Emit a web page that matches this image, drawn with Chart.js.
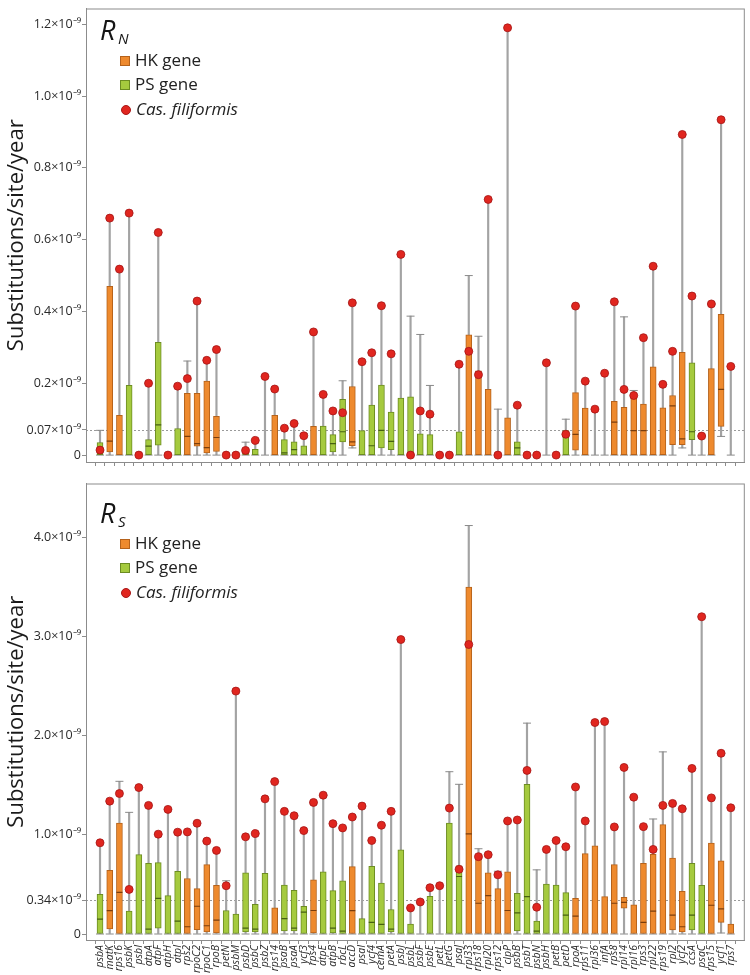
<!DOCTYPE html>
<html><head><meta charset="utf-8">
<script src="https://cdn.jsdelivr.net/npm/chart.js@4.4.0/dist/chart.umd.min.js"></script>
<style>
html,body{margin:0;padding:0;background:#fff;}
#wrap{position:relative;width:750px;height:975px;overflow:hidden;font-family:"Open Sans",sans-serif;}
canvas{position:absolute;left:0;}
.t{position:absolute;line-height:1;white-space:nowrap;color:#151515;font-style:italic;}
.lt{position:absolute;line-height:1;white-space:nowrap;color:#222;font-size:17px;}
.sq{position:absolute;width:8px;height:8px;border:1px solid;}
.dot{position:absolute;width:8px;height:8px;border-radius:50%;background:#E0261F;border:0.8px solid #A81818;}
</style></head>
<body>
<div id="wrap">
<canvas id="c1" width="750" height="475" style="top:0"></canvas>
<canvas id="c2" width="750" height="500" style="top:475px"></canvas>
</div>
<script>
// ---- data (values in units of 1e-9 substitutions/site/year) ----
const genes = ['psbA','matK','rps16','psbK','psbI','atpA','atpF','atpH','atpI','rps2','rpoC2','rpoC1','rpoB','petN','psbM','psbD','psbC','psbZ','rps14','psaB','psaA','ycf3','rps4','atpE','atpB','rbcL','accD','psaI','ycf4','cemA','petA','psbJ','psbL','psbF','psbE','petL','petG','psaJ','rpl33','rps18','rpl20','rps12','clpP','psbB','psbT','psbN','psbH','petB','petD','rpoA','rps11','rpl36','infA','rps8','rpl14','rpl16','rps3','rpl22','rps19','rpl2','ycf2','ccsA','psaC','rps15','ycf1','rps7'];
const geneGroup = ['PS','HK','HK','PS','PS','PS','PS','PS','PS','HK','HK','HK','HK','PS','PS','PS','PS','PS','HK','PS','PS','PS','HK','PS','PS','PS','HK','PS','PS','PS','PS','PS','PS','PS','PS','PS','PS','PS','HK','HK','HK','HK','HK','PS','PS','PS','PS','PS','PS','HK','HK','HK','HK','HK','HK','HK','HK','HK','HK','HK','HK','PS','PS','HK','HK','HK'];
const legendLabels = ['HK gene','PS gene','Cas. filiformis'];

// R_N panel
const rnLow  = [0,0,0,0,null,0,0,null,0,0,0,0,0,null,null,0,0,0,0,0,0,0,0,0,0,0,0.02,0,0,0,0,0,0,0,0,null,null,0,0,0,0,0,0,0,null,null,0,null,0,0,0,0,0,0,0,0,0,0,0,0,0.02,0,0,0,0.052,0];
const rnQ1   = [0,0.009,0,0,null,0,0.028,null,0,0,0.025,0.006,0.010,null,null,0,0,null,0,0,0,0,0,0,0.009,0.037,0.026,0,0,0.02,0.015,0,0,0,0,null,null,0,0,0,0,null,0,0,null,null,null,null,0,0.014,0,null,null,0,0,0,0,0,0,0.029,0.029,0.043,null,0,0.08,null];
const rnMed  = [0.008,0.039,null,null,null,0.025,0.084,null,null,0.052,0.032,0.021,0.049,null,null,null,null,null,null,0.006,0.015,null,null,null,0.032,0.065,0.037,null,0.026,0.069,0.038,null,null,null,null,null,null,null,null,null,null,null,null,0.02,null,null,null,null,null,0.058,null,null,null,0.092,null,0.068,0.068,null,null,0.137,0.045,0.065,null,null,0.183,null];
const rnQ3   = [0.035,0.47,0.111,0.194,null,0.043,0.314,null,0.074,0.172,0.172,0.206,0.108,null,null,0.007,0.016,null,0.111,0.043,0.037,0.026,0.08,0.081,0.057,0.155,0.191,0.068,0.139,0.195,0.12,0.159,0.162,0.059,0.057,null,null,0.065,0.335,0.235,0.183,null,0.104,0.037,null,null,null,null,0.068,0.174,0.131,null,null,0.15,0.133,0.166,0.142,0.246,0.132,0.166,0.286,0.257,null,0.241,0.392,null];
const rnHigh = [0.069,0.66,0.518,0.674,null,0.2,0.62,null,0.192,0.262,0.429,0.264,0.294,null,null,0.036,0.041,0.219,0.184,0.075,0.088,0.06,0.343,0.169,0.123,0.207,0.424,0.26,0.285,0.416,0.282,0.559,0.387,0.336,0.194,null,null,0.253,0.5,0.331,0.712,0.128,1.19,0.139,null,null,0.257,null,0.1,0.415,0.206,0.128,0.228,0.427,0.385,0.18,0.327,0.526,0.197,0.289,0.893,0.443,0.053,0.421,0.934,0.247];
const rnDot  = [0.014,0.66,0.518,0.674,0,0.2,0.62,0,0.192,0.213,0.429,0.264,0.294,0,0,0.013,0.041,0.219,0.184,0.075,0.088,0.054,0.343,0.169,0.123,0.118,0.424,0.26,0.285,0.416,0.282,0.559,0,0.123,0.114,0,0,0.253,0.289,0.224,0.712,0,1.19,0.139,0,0,0.257,0,0.058,0.415,0.206,0.128,0.228,0.427,0.183,0.166,0.327,0.526,0.197,0.289,0.893,0.443,0.053,0.421,0.934,0.247];
const rnTicks = [0,0.07,0.2,0.4,0.6,0.8,1.0,1.2];
const rnTickLabels = ['0','0.07×10⁻⁹','0.2×10⁻⁹','0.4×10⁻⁹','0.6×10⁻⁹','0.8×10⁻⁹','1.0×10⁻⁹','1.2×10⁻⁹'];
const rnRef = 0.07;

// R_S panel
const rsLow  = [0,0,0,0,0,0,0,0,0,0,0,0,0,0,0,0,0,0,0,0,0,0,0,0,0,0,0,0,0,0,0,0,0,0,0,0,0,0,0,0,0,0,0,0,0,0,0,0,0,0,0,0,0,0,0,0,0,0,0,0,0,0,0,0,0.01,0];
const rsQ1   = [0,0.05,0,0,0,0,0.06,0,0,0,0.044,0.02,0.01,0,0,0.02,0.02,0,0,0.03,0.03,0,0.01,0,0.01,0,0,0,0,0,0.02,0,0,null,0,null,0,0,0,0,0,0,0,0.03,0,0,0,0,0,0,0,0,0,0,0.26,0,0,0,0,0.04,0.02,0.04,0,0,0.117,0];
const rsMed  = [0.15,0.235,0.42,null,null,0.05,0.36,null,0.13,0.073,0.28,0.083,0.14,null,null,0.06,0.05,null,null,0.155,0.06,0.22,0.237,null,0.06,0.03,0.235,null,0.117,0.097,0.05,null,null,null,null,null,null,0.58,1.01,0.31,0.387,null,0.237,0.214,0.377,0.03,null,null,0.19,0.18,null,null,null,0.31,0.32,null,0.117,0.23,null,0.19,0.073,0.19,null,0.29,0.253,null];
const rsQ3   = [0.4,0.643,1.12,0.23,0.8,0.713,0.72,0.387,0.633,0.56,0.457,0.7,0.49,0.237,0.2,0.617,0.3,0.613,0.263,0.493,0.44,0.28,0.547,0.627,0.437,0.537,0.68,0.155,0.683,0.513,0.247,0.85,0.1,null,0.38,null,1.12,0.687,3.5,0.78,0.617,0.457,0.627,0.41,1.51,0.13,0.503,0.493,0.417,0.36,0.81,0.89,0.377,0.7,0.37,0.293,0.713,0.803,1.103,0.767,0.43,0.713,0.49,0.917,0.737,0.1];
const rsHigh = [0.92,1.34,1.54,1.227,1.477,1.297,1.007,1.257,1.027,1.03,1.117,0.937,0.843,0.537,2.45,0.98,1.013,1.363,1.537,1.237,1.193,1.043,1.327,1.4,1.113,1.07,1.18,1.29,0.943,1.097,1.237,2.97,0.263,0.323,0.467,0.487,1.637,1.51,4.12,0.86,0.8,0.633,1.14,1.15,2.127,0.647,0.853,0.943,0.88,1.483,1.14,2.133,2.143,1.08,1.68,1.38,1.083,1.16,1.837,1.317,1.263,1.67,3.2,1.373,1.823,1.273];
const rsDot  = [0.92,1.34,1.417,0.45,1.477,1.297,1.007,1.257,1.027,1.03,1.117,0.937,0.843,0.487,2.45,0.98,1.013,1.363,1.537,1.237,1.193,1.043,1.327,1.4,1.113,1.07,1.18,1.29,0.943,1.097,1.237,2.97,0.263,0.323,0.467,0.487,1.27,0.653,2.92,0.78,0.8,0.597,1.14,1.15,1.65,0.27,0.853,0.943,0.88,1.483,1.14,2.133,2.143,1.08,1.68,1.38,1.083,0.853,1.297,1.317,1.263,1.67,3.2,1.373,1.823,1.273];
const rsTicks = [0,0.34,1,2,3,4];
const rsTickLabels = ['0','0.34×10⁻⁹','1.0×10⁻⁹','2.0×10⁻⁹','3.0×10⁻⁹','4.0×10⁻⁹'];
const rsRef = 0.34;

const yTitle = 'Substitutions/site/year';

// ---- styles ----
const FILL = {HK:'#EE8A2E', PS:'#A5CA3E'};
const LINE = {HK:'#B5621B', PS:'#6C8C22'};
const MEDC = {HK:'#7A3D0C', PS:'#465F12'};
const FONT = '"Open Sans", sans-serif';

const framePlugin = {
  id:'frame',
  beforeDatasetsDraw(chart, args, opts){
    const {ctx, chartArea:a, scales:{y}} = chart;
    const py = Math.round(y.getPixelForValue(opts.ref)) + 0.5;
    ctx.save();
    ctx.strokeStyle = '#9a9a9a'; ctx.lineWidth = 1; ctx.setLineDash([2,2]);
    ctx.beginPath(); ctx.moveTo(a.left, py); ctx.lineTo(a.right, py); ctx.stroke();
    ctx.restore();
  },
  afterDraw(chart){
    const {ctx, chartArea:a} = chart;
    ctx.save();
    ctx.strokeStyle = '#8c8c8c'; ctx.lineWidth = 1;
    ctx.strokeRect(a.left + 0.5, a.top + 0.5, a.right - a.left - 1, a.bottom - a.top);
    ctx.restore();
  }
};

function pts(arr){ return genes.map((g,i)=>({x:i, y: arr[i]==null ? null : arr[i]})); }
function rng(a,b){ return genes.map((g,i)=>({x:i, y: (a[i]==null||b[i]==null) ? null : [a[i], b[i]]})); }

function makeChart(id, d){
  const grp = c => geneGroup[c.dataIndex];
  return new Chart(document.getElementById(id), {
    type:'bar',
    data:{ datasets:[
      {type:'line', label:'dot', data:pts(d.dot), showLine:false, order:0,
       pointStyle:'circle', pointRadius:4, pointBackgroundColor:'#E0261F', pointBorderColor:'#A51515', pointBorderWidth:0.8},
      {type:'line', label:'median', data:pts(d.med), showLine:false, order:1,
       pointStyle:'line', pointRadius:3, pointBorderWidth:1.2, pointBorderColor: c => MEDC[grp(c)]},
      {type:'bar', label:'box', data:rng(d.q1,d.q3), order:2, grouped:false, barThickness:6,
       backgroundColor: c => FILL[grp(c)], borderColor: c => LINE[grp(c)], borderWidth:1, borderSkipped:false},
      {type:'line', label:'capHi', data:pts(d.high), showLine:false, order:3,
       pointStyle:'line', pointRadius:4, pointBorderWidth:1, pointBorderColor:'#8a8a8a'},
      {type:'line', label:'capLo', data:pts(d.low), showLine:false, order:3,
       pointStyle:'line', pointRadius:4, pointBorderWidth:1, pointBorderColor:'#8a8a8a'},
      {type:'bar', label:'whisker', data:rng(d.low,d.high), order:4, grouped:false, barThickness:1.5,
       backgroundColor:'#a3a3a3', borderWidth:0}
    ]},
    options:{
      responsive:false, animation:false, devicePixelRatio:1, events:[],
      layout:{padding:{top:d.padTop, right:2, left:0, bottom:0}},
      plugins:{legend:{display:false}, tooltip:{enabled:false}, frame:{ref:d.ref}},
      scales:{
        x:{type:'linear', min:-0.93, max:65.93,
           afterBuildTicks: s => { s.ticks = genes.map((g,i)=>({value:i})); },
           afterFit: s => { s.height = d.xH; },
           grid:{drawOnChartArea:false, drawTicks:true, tickLength:4, color:'#8c8c8c'},
           border:{display:true, color:'#8c8c8c'},
           ticks:{autoSkip:false, minRotation:90, maxRotation:90, padding:1,
                  color: d.showX ? '#2a2a2a' : 'rgba(0,0,0,0)',
                  font:{family:FONT, size:10.5, style:'italic'},
                  callback: v => genes[v]}},
        y:{type:'linear', min:d.min, max:d.max,
           afterBuildTicks: s => { s.ticks = d.ticks.map(v=>({value:v})); },
           afterFit: s => { s.width = 86; },
           grid:{drawOnChartArea:false, drawTicks:true, tickLength:4, color:'#8c8c8c'},
           border:{display:true, color:'#8c8c8c'},
           ticks:{padding:1, color:'#2a2a2a', font:{family:FONT, size:12.5},
                  callback:(v,i) => d.tickLabels[i]},
           title:{display:true, text:yTitle, color:'#1a1a1a', font:{family:FONT, size:22}, padding:{top:4,bottom:0}}}
      }
    },
    plugins:[framePlugin]
  });
}

makeChart('c1', {low:rnLow,q1:rnQ1,med:rnMed,q3:rnQ3,high:rnHigh,dot:rnDot,
  ticks:rnTicks, tickLabels:rnTickLabels, ref:rnRef, min:-0.0192, max:1.2438, padTop:1, xH:13, showX:false});
makeChart('c2', {low:rsLow,q1:rsQ1,med:rsMed,q3:rsQ3,high:rsHigh,dot:rsDot,
  ticks:rsTicks, tickLabels:rsTickLabels, ref:rsRef, min:-0.0605, max:4.544, padTop:8, xH:35, showX:true});

// ---- panel titles & legends (HTML text) ----
const wrap = document.getElementById('wrap');
function addPanelLegend(off, sub){
  const mk = (cls, html, l, t, extra) => { const e = document.createElement('div'); e.className = cls; e.innerHTML = html; e.style.left = l+'px'; e.style.top = t+'px'; if (extra) Object.assign(e.style, extra); wrap.appendChild(e); return e; };
  mk('t', 'R', 100, off+16, {fontSize:'27px'});
  mk('t', sub, 118, off+31, {fontSize:'15px'});
  mk('sq', '', 120, off+56, {background:FILL.HK, borderColor:LINE.HK});
  mk('lt', legendLabels[0], 135, off+51);
  mk('sq', '', 120, off+80, {background:FILL.PS, borderColor:LINE.PS});
  mk('lt', legendLabels[1], 135, off+75);
  mk('dot', '', 120.5, off+104.5);
  mk('lt', legendLabels[2], 136, off+100, {fontStyle:'italic'});
}
addPanelLegend(0, 'N');
addPanelLegend(483, 'S');
</script>
</body></html>
